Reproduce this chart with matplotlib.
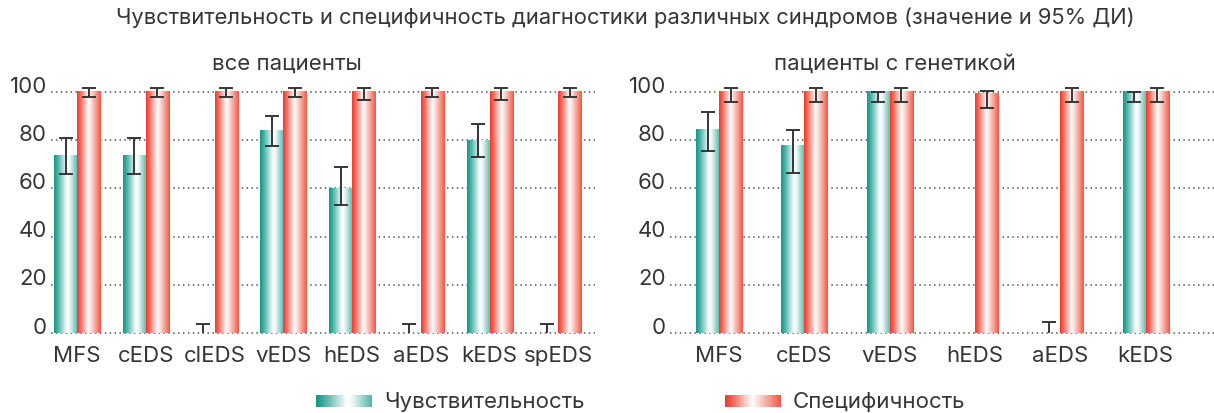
import numpy as np
import matplotlib
matplotlib.use("Agg")
import matplotlib.pyplot as plt
from matplotlib.colors import LinearSegmentedColormap
from matplotlib.transforms import ScaledTranslation

plt.rcParams['font.family'] = ['Inter', 'DejaVu Sans']
TXT = '#363636'

title = "Чувствительность и специфичность диагностики различных синдромов (значение и 95% ДИ)"
sub_all = "все пациенты"
sub_gen = "пациенты с генетикой"
lab_sens = "Чувствительность"
lab_spec = "Специфичность"

# все пациенты
cats_all = ['MFS', 'cEDS', 'clEDS', 'vEDS', 'hEDS', 'aEDS', 'kEDS', 'spEDS']
sens_all = [73.7, 73.7, 0, 84, 60, 0, 80, 0]
sens_all_lo = [65.8, 65.8, 0, 77.7, 52.9, 0, 72.9, 0]
sens_all_hi = [80.9, 80.9, 3.6, 89.8, 68.9, 3.6, 86.5, 3.6]
spec_all = [100, 100, 100, 100, 100, 100, 100, 100]
spec_all_lo = [98, 98, 98, 98, 96.5, 98, 96.5, 98]
spec_all_hi = [101.4, 101.4, 101.4, 101.4, 101.4, 101.4, 101.4, 101.4]

# пациенты с генетикой
cats_gen = ['MFS', 'cEDS', 'vEDS', 'hEDS', 'aEDS', 'kEDS']
sens_gen = [84.3, 77.7, 100, np.nan, 0, 100]
sens_gen_lo = [75.4, 66.4, 95.8, np.nan, 0, 95.8]
sens_gen_hi = [91.5, 84.3, 100, np.nan, 4.4, 100]
spec_gen = [100, 100, 100, 99.5, 100, 100]
spec_gen_lo = [95.6, 95.6, 95.6, 93.4, 95.6, 95.6]
spec_gen_hi = [101.4, 101.4, 101.4, 100.4, 101.4, 101.4]

teal_cmap = LinearSegmentedColormap.from_list(
    'teal', [(0, '#0e9888'), (0.15, '#45aea2'), (0.55, '#ffffff'),
             (0.65, '#eef8f6'), (1.0, '#4fb5a9')])
red_cmap = LinearSegmentedColormap.from_list(
    'red', [(0, '#ee3a2b'), (0.15, '#f36a5c'), (0.48, '#ffffff'),
            (0.58, '#fde2dd'), (1.0, '#f15646')])
grad = np.linspace(0, 1, 256).reshape(1, -1)


def grad_bars(ax, bars, cmap):
    for p in bars.patches:
        h = p.get_height()
        if not np.isfinite(h) or h <= 0:
            continue
        x, w = p.get_x(), p.get_width()
        ax.imshow(grad, extent=[x, x + w, 0, h], cmap=cmap, aspect='auto',
                  zorder=2, interpolation='bicubic')


def ci(ax, x, lo, hi):
    for xi, l, u in zip(x, lo, hi):
        if not np.isfinite(u):
            continue
        ax.plot([xi, xi], [l, u], color=TXT, lw=1.4, zorder=4, clip_on=False,
                solid_capstyle='butt')
        ax.plot([xi], [u], marker='_', ms=10, mew=1.4, color=TXT, zorder=4, clip_on=False)
        if l > 0:
            ax.plot([xi], [l], marker='_', ms=10, mew=1.4, color=TXT, zorder=4, clip_on=False)


def panel(ax, cats, sens, slo, shi, spec, plo, phi, w, xlim):
    x = np.arange(len(cats))
    b1 = ax.bar(x - w / 2, np.nan_to_num(sens), w, color='none', zorder=2)
    b2 = ax.bar(x + w / 2, spec, w, color='none', zorder=2)
    grad_bars(ax, b1, teal_cmap)
    grad_bars(ax, b2, red_cmap)
    ci(ax, x - w / 2, slo, shi)
    ci(ax, x + w / 2, plo, phi)
    ax.set_xlim(*xlim)
    ax.set_ylim(-0.4, 100.4)
    ax.set_yticks([0, 20, 40, 60, 80, 100])
    ax.set_xticks(x)
    ax.set_xticklabels(cats)
    ax.yaxis.grid(True, linestyle=(0, (1, 2.2)), color='#555555', lw=1.1)
    ax.set_axisbelow(True)
    for s in ax.spines.values():
        s.set_visible(False)
    ax.tick_params(length=0, labelsize=16, labelcolor=TXT)
    ax.tick_params(axis='x', pad=8)
    ax.tick_params(axis='y', pad=3)
    off = ScaledTranslation(0, 6 / 72, ax.figure.dpi_scale_trans)
    for t in ax.get_yticklabels():
        t.set_transform(t.get_transform() + off)


fig = plt.figure(figsize=(12.14, 4.14), dpi=100)
ax1 = fig.add_axes([0.042, 0.191, 0.448, 0.587])
ax2 = fig.add_axes([0.552, 0.191, 0.448, 0.587])
panel(ax1, cats_all, sens_all, sens_all_lo, sens_all_hi, spec_all, spec_all_lo, spec_all_hi,
      0.335, (-0.38, 7.53))
panel(ax2, cats_gen, sens_gen, sens_gen_lo, sens_gen_hi, spec_gen, spec_gen_lo, spec_gen_hi,
      0.27, (-0.574, 5.8))

fig.text(0.515, 0.956, title, ha='center', va='center', fontsize=15.8, color=TXT)
fig.text(0.236, 0.846, sub_all, ha='center', va='center', fontsize=16, color=TXT)
fig.text(0.737, 0.846, sub_gen, ha='center', va='center', fontsize=16, color=TXT)

# легенда
for x0, cmap, lab in [(316, teal_cmap, lab_sens), (725, red_cmap, lab_spec)]:
    lax = fig.add_axes([x0 / 1214, 6 / 414, 56 / 1214, 12 / 414])
    lax.imshow(grad, cmap=cmap, aspect='auto', interpolation='bicubic')
    lax.axis('off')
    fig.text((x0 + 68) / 1214, 12 / 414, lab, ha='left', va='center', fontsize=16, color=TXT)

fig.savefig('out.png', dpi=100)
